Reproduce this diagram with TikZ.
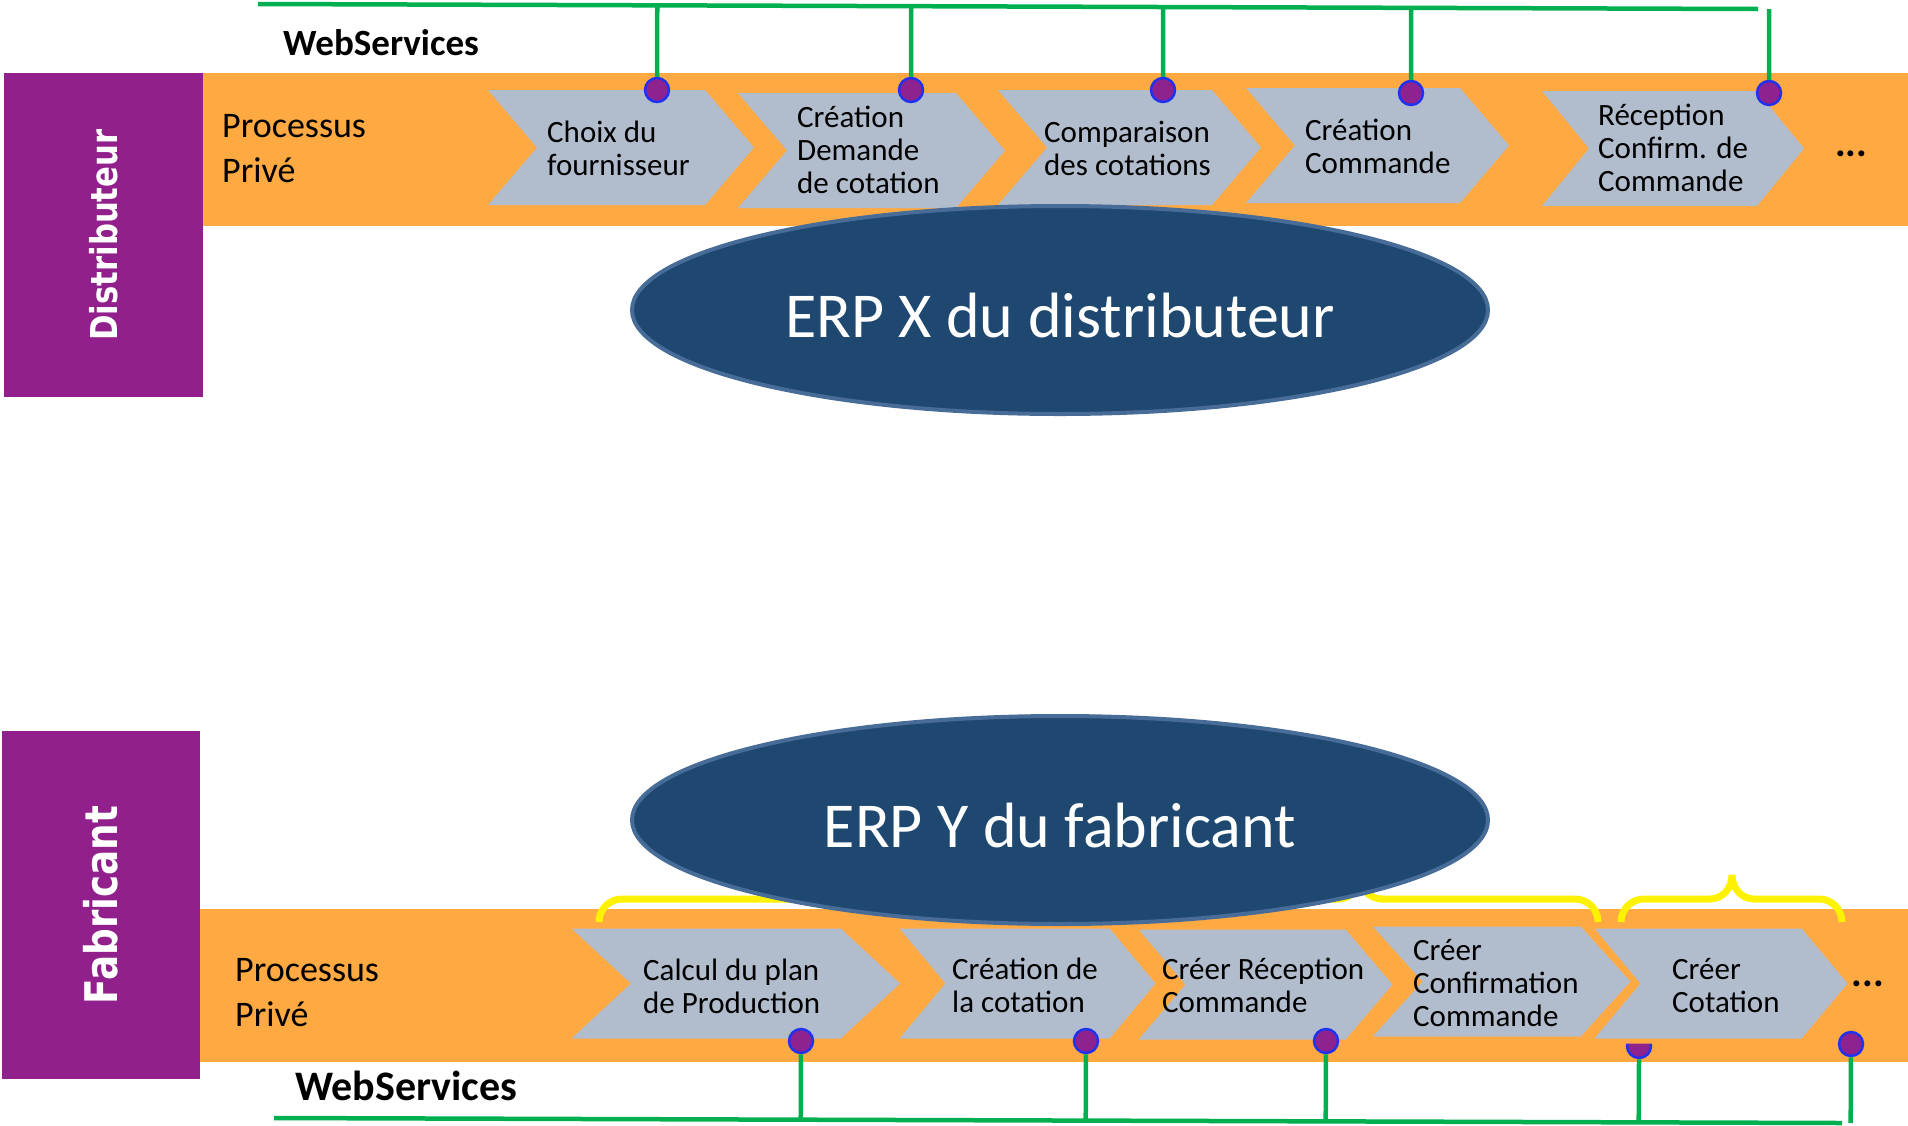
\documentclass[tikz,border=0pt]{standalone}
\usepackage{fontspec}
\setmainfont{Carlito}
\newfontfamily\lanefont[FakeStretch=0.83]{DejaVu Sans}
\usetikzlibrary{calc,shapes.geometric,positioning}

\definecolor{lanepurple}{RGB}{145,31,140}
\definecolor{bandorange}{RGB}{254,169,66}
\definecolor{chevgray}{RGB}{177,189,205}
\definecolor{erpblue}{RGB}{31,72,113}
\definecolor{erpedge}{RGB}{72,108,152}
\definecolor{wsgreen}{RGB}{0,176,80}
\definecolor{portpurple}{RGB}{142,35,144}
\definecolor{portblue}{RGB}{30,50,240}

\begin{document}
\begin{tikzpicture}[x=1pt,y=-1pt,
		lane/.style={rotate=90, fill=lanepurple, text=white, inner sep=0pt, font=\lanefont\bfseries},
		chev/.style={fill=chevgray},
		chevline/.style={chev, draw=bandorange, line width=5pt},
		chevtext/.style={anchor=west, inner sep=0pt, align=left, font=\fontsize{31}{33}\selectfont},
		privtext/.style={anchor=west, inner sep=0pt, align=left, font=\fontsize{36}{45}\selectfont},
		wstext/.style={anchor=west, inner sep=0pt},
		more/.style={inner sep=0pt, font=\bfseries\fontsize{40}{42}\selectfont},
		port/.style={circle, fill=portpurple, draw=portblue, line width=2.5pt, minimum size=24pt, inner sep=0pt},
		bus/.style={wsgreen, line width=4.5pt},
		erp/.style={ellipse, fill=erpblue, draw=erpedge, line width=4pt, minimum width=856pt, minimum height=208pt, text=white, text height=55pt, text depth=0pt, font=\fontsize{64}{70}\selectfont},
		brace/.style={yellow, line width=7pt}
	]
		\useasboundingbox (0,0) rectangle (1908,1125);
		
		% distributeur
		\fill[bandorange] (203,73) rectangle (1908,226);
		\node[lane, minimum width=324pt, minimum height=199pt] (dist) at (103.5,235) {\fontsize{37}{40}\selectfont Distributeur};
		\node[privtext] (priv1) at (222,149) {Processus\\Privé};
		\node[wstext, font=\bfseries\fontsize{37}{40}\selectfont] (ws1) at (283,43) {WebServices};
		
		\fill[chev] (488,90) -- ++(217,0) -- ++(49,57.5) -- ++(-49,57.5) -- ++(-217,0) -- ++(49,-57.5) -- cycle;
		\fill[chev] (738,93) -- ++(218,0) -- ++(49,57.5) -- ++(-49,57.5) -- ++(-218,0) -- ++(49,-57.5) -- cycle;
		\fill[chev] (998,90) -- ++(214,0) -- ++(49,57.5) -- ++(-49,57.5) -- ++(-214,0) -- ++(49,-57.5) -- cycle;
		\fill[chev] (1246,88) -- ++(214,0) -- ++(49,57.5) -- ++(-49,57.5) -- ++(-214,0) -- ++(49,-57.5) -- cycle;
		\fill[chev] (1542,91) -- ++(215,0) -- ++(47,57.5) -- ++(-47,57.5) -- ++(-215,0) -- ++(47,-57.5) -- cycle;
		
		\node[chevtext] (s1) at (547,148) {Choix du\\fournisseur};
		\node[chevtext] (s2) at (797,150) {Création\\Demande\\de cotation};
		\node[chevtext] (s3) at (1044,148) {Comparaison\\des cotations};
		\node[chevtext] (s4) at (1305,146) {Création\\Commande};
		\node[chevtext] (s5) at (1598,148) {Réception\\Confirm. de\\Commande};
		\node[more] (more1) at (1851,154) {...};
		
		\coordinate (busA) at (258,4);
		\coordinate (busB) at (1758,9);
		\draw[bus] (busA) -- (busB);
		\node[port] (p1) at (657,90) {};
		\node[port] (p2) at (911,90) {};
		\node[port] (p3) at (1163,90) {};
		\node[port] (p4) at (1411,93) {};
		\node[port] (p5) at (1769,93) {};
		\draw[bus] (p1) -- ($(busA)!(p1)!(busB)$);
		\draw[bus] (p2) -- ($(busA)!(p2)!(busB)$);
		\draw[bus] (p3) -- ($(busA)!(p3)!(busB)$);
		\draw[bus] (p4) -- ($(busA)!(p4)!(busB)$);
		\draw[bus] (p5) -- ($(busA)!(p5)!(busB)$);
		
		\node[erp] (erpx) at (1060,310) {ERP X du distributeur};
		
		% fabricant
		\fill[bandorange] (198,909) rectangle (1908,1062);
		\node[lane, minimum width=348pt, minimum height=198pt] (fab) at (101,905) {\fontsize{45}{48}\selectfont Fabricant};
		\node[privtext] (priv2) at (235,993) {Processus\\Privé};
		\node[wstext, font=\bfseries\fontsize{42}{45}\selectfont] (ws2) at (295,1086) {WebServices};
		
		\draw[brace] (599,922) to[out=90,in=180] (622,899) -- (1338,899) to[out=0,in=-90] (1360,876) to[out=-90,in=180] (1382,899) -- (1575,899) to[out=0,in=90] (1598,922);
		\draw[brace] (1621,922) to[out=90,in=180] (1644,899) -- (1710,899) to[out=0,in=-90] (1732,875) to[out=-90,in=180] (1754,899) -- (1819,899) to[out=0,in=90] (1842,922);
		
		\draw[chevline] (565,926) -- ++(277,0) -- ++(62,57.5) -- ++(-62,57.5) -- ++(-277,0) -- ++(62,-57.5) -- cycle;
		\draw[chevline] (894,926) -- ++(217,0) -- ++(48,57.5) -- ++(-48,57.5) -- ++(-217,0) -- ++(48,-57.5) -- cycle;
		\draw[chevline] (1133,927) -- ++(214,0) -- ++(49,57.5) -- ++(-49,57.5) -- ++(-214,0) -- ++(49,-57.5) -- cycle;
		\draw[chevline] (1367,924) -- ++(215,0) -- ++(52,57.5) -- ++(-52,57.5) -- ++(-215,0) -- ++(52,-57.5) -- cycle;
		\node[port] (q4) at (1639,1046) {};
		\draw[chevline] (1589,926) -- ++(214,0) -- ++(48,57.5) -- ++(-48,57.5) -- ++(-214,0) -- ++(48,-57.5) -- cycle;
		
		\node[chevtext] (f1) at (643,986) {Calcul du plan\\de Production};
		\node[chevtext] (f2) at (952,985) {Création de\\la cotation};
		\node[chevtext] (f3) at (1162,985) {Créer Réception\\Commande};
		\node[chevtext] (f4) at (1413,983) {Créer\\Confirmation\\Commande};
		\node[chevtext] (f5) at (1672,986) {Créer\\Cotation};
		\node[more] (more2) at (1868,984) {...};
		
		\coordinate (busC) at (274,1118);
		\coordinate (busD) at (1842,1123);
		\draw[bus] (busC) -- (busD);
		\node[port] (q1) at (801,1041) {};
		\node[port] (q2) at (1086,1041) {};
		\node[port] (q3) at (1326,1041) {};
		\node[port] (q5) at (1851,1044) {};
		\draw[bus] (q1) -- ($(busC)!(q1)!(busD)$);
		\draw[bus] (q2) -- ($(busC)!(q2)!(busD)$);
		\draw[bus] (q3) -- ($(busC)!(q3)!(busD)$);
		\draw[bus] (q4.south) -- ($(busC)!(q4)!(busD)$);
		\draw[bus] (q5) -- ($(busC)!(q5)!(busD)$);
		
		\node[erp] (erpy) at (1060,820) {ERP Y du fabricant};
	\end{tikzpicture}
\end{document}
